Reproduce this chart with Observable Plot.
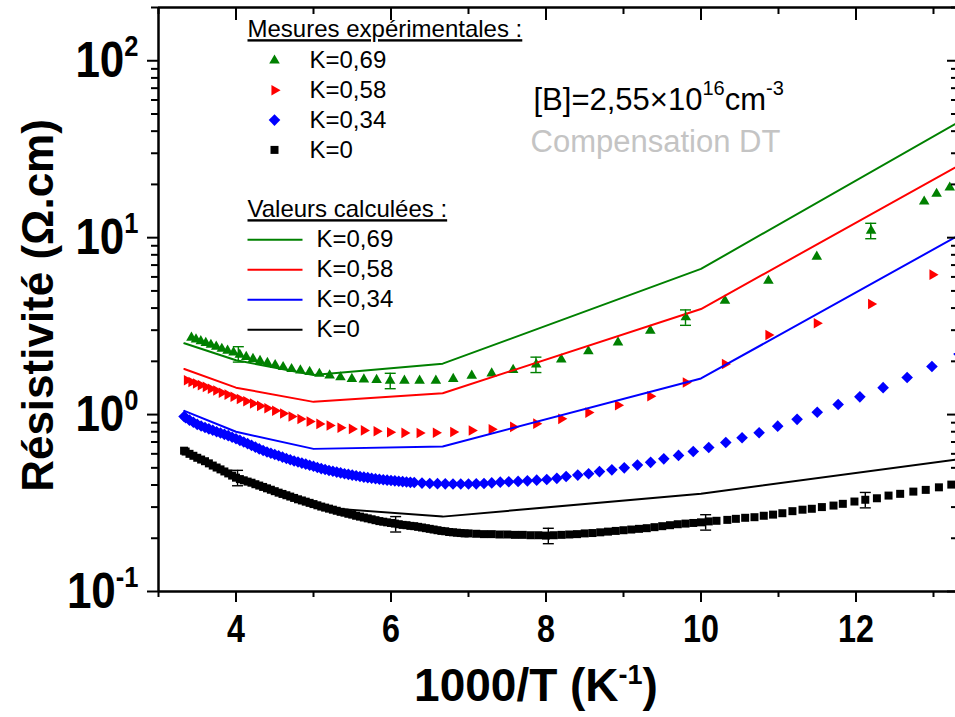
<!DOCTYPE html>
<html>
<head>
<meta charset="utf-8">
<script src="https://cdn.jsdelivr.net/npm/d3@7"></script>
<script src="https://cdn.jsdelivr.net/npm/@observablehq/plot@0.6"></script>
<style>
  html, body { margin: 0; padding: 0; background: #fff; overflow: hidden; }
  #chart svg { display: block; }
</style>
</head>
<body>
<div id="chart"></div>
<script>
// ---------------- DATA ----------------
// Experimental points, K = 0.69 (green up-triangles)
const xExpK069 = [3.425,3.484,3.546,3.610,3.676,3.745,3.817,3.891,3.968,4.049,4.132,4.219,4.310,4.405,4.505,4.608,4.717,4.831,4.950,5.076,5.208,5.348,5.495,5.650,5.814,5.988,6.173,6.369,6.579,6.803,7.042,7.299,7.576,7.874,8.197,8.547,8.929,9.346,9.804,10.309,10.870,11.494,12.195,12.88,13.04,13.21];
const rhoExpK069 = [2.72,2.66,2.60,2.54,2.48,2.42,2.355,2.30,2.245,2.18,2.12,2.065,2.01,1.96,1.905,1.857,1.81,1.778,1.742,1.70,1.665,1.625,1.59,1.58,1.57,1.556,1.556,1.556,1.556,1.59,1.66,1.71,1.79,1.92,2.05,2.28,2.56,2.98,3.55,4.41,5.71,7.81,10.96,16.0,17.7,19.2];

// Experimental points, K = 0.58 (red right-triangles)
const xExpK058 = [3.367,3.425,3.484,3.546,3.610,3.676,3.745,3.817,3.891,3.968,4.049,4.132,4.219,4.310,4.405,4.505,4.608,4.717,4.831,4.950,5.076,5.208,5.348,5.495,5.650,5.814,5.988,6.173,6.369,6.579,6.803,7.042,7.299,7.576,7.874,8.197,8.547,8.929,9.346,9.804,10.309,10.870,11.494,12.195,12.987];
const rhoExpK058 = [1.565,1.53,1.50,1.467,1.434,1.40,1.367,1.33,1.297,1.262,1.226,1.19,1.154,1.12,1.085,1.05,1.014,0.975,0.944,0.914,0.886,0.867,0.843,0.83,0.814,0.805,0.795,0.788,0.787,0.789,0.798,0.813,0.826,0.852,0.889,0.946,1.026,1.129,1.269,1.52,1.93,2.82,3.28,4.22,6.18];

// Experimental points, K = 0.34 (blue diamonds)
const xExpK034 = [3.33,3.35,3.40,3.45,3.50,3.55,3.60,3.65,3.70,3.75,3.80,3.85,3.90,3.95,4.00,4.05,4.10,4.15,4.20,4.25,4.30,4.35,4.40,4.45,4.50,4.55,4.60,4.65,4.70,4.75,4.80,4.85,4.90,4.95,5.00,5.05,5.10,5.15,5.20,5.25,5.30,5.35,5.40,5.45,5.50,5.55,5.60,5.65,5.70,5.75,5.80,5.85,5.90,5.95,6.00,6.05,6.10,6.15,6.20,6.25,6.30,
  6.4,6.5,6.6,6.7,6.8,6.9,7.0,7.1,7.2,7.3,
  7.41,7.52,7.64,7.76,7.88,8.01,8.14,8.26,8.41,8.55,8.69,8.85,9.01,9.18,9.35,9.52,9.71,9.90,10.10,10.32,10.53,10.75,10.99,11.24,11.50,11.77,12.05,12.35,12.66,12.98,13.33];
const rhoExpK034 = [0.975,0.96,0.93,0.905,0.88,0.862,0.845,0.83,0.815,0.80,0.787,0.773,0.76,0.745,0.73,0.715,0.70,0.685,0.67,0.655,0.64,0.627,0.615,0.605,0.595,0.585,0.575,0.565,0.555,0.547,0.54,0.532,0.525,0.517,0.51,0.502,0.495,0.489,0.483,0.478,0.473,0.468,0.463,0.459,0.455,0.451,0.447,0.443,0.44,0.437,0.434,0.431,0.428,0.426,0.424,0.422,0.42,0.418,0.416,0.414,0.413,
  0.41,0.408,0.407,0.406,0.405,0.405,0.405,0.406,0.408,0.411,
  0.415,0.417,0.419,0.422,0.426,0.430,0.436,0.447,0.455,0.463,0.476,0.487,0.50,0.518,0.537,0.562,0.588,0.618,0.652,0.695,0.74,0.79,0.86,0.94,1.03,1.14,1.26,1.42,1.62,1.87,2.2];

// Experimental points, K = 0 (black squares)
const xExpK0 = [3.33,3.35,3.40,3.45,3.50,3.55,3.60,3.65,3.70,3.75,3.80,3.85,3.90,3.95,4.00,4.05,4.10,4.15,4.20,4.25,4.30,4.35,4.40,4.45,4.50,4.55,4.60,4.65,4.70,4.75,4.80,4.85,4.90,4.95,5.00,5.05,5.10,5.15,5.20,5.25,5.30,5.35,5.40,5.45,5.50,5.55,5.60,5.65,5.70,5.75,5.80,5.85,5.90,5.95,6.00,6.05,6.10,6.15,6.20,6.25,6.30,6.35,6.40,6.45,6.50,6.55,6.60,6.65,6.70,6.75,6.80,6.85,6.90,6.95,7.00,
  7.1,7.2,7.3,7.4,7.5,7.6,7.7,7.8,7.9,8.0,8.1,8.2,8.3,8.4,8.5,8.6,8.7,8.8,8.9,9.0,9.1,9.2,9.3,9.4,9.5,9.6,9.7,9.8,9.9,10.0,10.1,10.2,
  10.34,10.45,10.57,10.69,10.81,10.93,11.05,11.18,11.31,11.43,11.56,11.71,11.83,11.98,12.12,12.27,12.42,12.57,12.74,12.90,13.07,13.23];
const rhoExpK0 = [0.625,0.618,0.60,0.585,0.57,0.557,0.545,0.53,0.515,0.502,0.49,0.477,0.465,0.452,0.44,0.432,0.425,0.418,0.412,0.404,0.397,0.39,0.383,0.376,0.369,0.362,0.356,0.35,0.344,0.338,0.332,0.327,0.322,0.317,0.312,0.307,0.302,0.298,0.294,0.29,0.286,0.282,0.279,0.275,0.272,0.268,0.265,0.262,0.259,0.256,0.253,0.25,0.248,0.246,0.244,0.242,0.240,0.238,0.237,0.235,0.234,0.232,0.230,0.228,0.226,0.224,0.222,0.22,0.219,0.217,0.216,0.215,0.214,0.213,0.213,
  0.212,0.211,0.211,0.210,0.210,0.209,0.209,0.208,0.208,0.207,0.208,0.209,0.210,0.211,0.213,0.214,0.216,0.218,0.220,0.222,0.224,0.226,0.228,0.231,0.234,0.237,0.240,0.242,0.244,0.246,0.249,0.251,
  0.254,0.2575,0.261,0.263,0.268,0.272,0.277,0.2845,0.29,0.2935,0.30,0.306,0.313,0.3225,0.33,0.3365,0.3485,0.3565,0.367,0.3753,0.388,0.402];

// Error bars (relative error)
const xErrK069 = [4.03, 5.99, 7.87, 9.80, 12.19];
const rhoErrK069 = [2.2, 1.556, 1.92, 3.55, 10.96];
const relErrK069 = [0.1, 0.1, 0.1, 0.1, 0.1];
const xErrK0 = [4.02, 6.06, 8.03, 10.06, 12.12];
const rhoErrK0 = [0.44, 0.241, 0.207, 0.247, 0.33];
const relErrK0 = [0.1, 0.1, 0.1, 0.1, 0.1];

// Calculated values (lines)
const xCalc = [3.333, 4, 5, 6.667, 10, 13.333];
const rhoCalcK069 = [2.53, 2.03, 1.675, 1.94, 6.66, 45.3];
const rhoCalcK058 = [1.81, 1.42, 1.18, 1.32, 3.95, 25.7];
const rhoCalcK034 = [1.05, 0.80, 0.64, 0.66, 1.60, 10.35];
const rhoCalcK0 = [0.63, 0.45, 0.30, 0.265, 0.357, 0.56];

// Ticks and labels
const xMajorTicks = [4, 6, 8, 10, 12];
const xMinorTicks = [3, 5, 7, 9, 11, 13];
const yMajorTicks = [0.1, 1, 10, 100];
const yMinorTicks = [0.2,0.3,0.4,0.5,0.6,0.7,0.8,0.9,2,3,4,5,6,7,8,9,20,30,40,50,60,70,80,90,200];
const xDomain = [3, 13.284];
const yDomain = [0.1, 200];

const legendExpTitle = "Mesures expérimentales :";
const legendCalcTitle = "Valeurs calculées :";
const legendLabels = ["K=0,69", "K=0,58", "K=0,34", "K=0"];
const seriesColors = ["#008000", "#ff0000", "#0000ff", "#000000"];
const annotation1 = "[B]=2,55×10^{16}cm^{-3}";
const annotation2 = "Compensation DT";
const xTitle = "1000/T (K^{-1})";
const yTitle = "Résistivité (Ω.cm)";

// ---------------- SYMBOLS ----------------
function poly(pts) {
  return { draw(ctx) { ctx.moveTo(pts[0][0], pts[0][1]); for (let i = 1; i < pts.length; i++) ctx.lineTo(pts[i][0], pts[i][1]); ctx.closePath(); } };
}
function hseg(len) {
  return { draw(ctx) { ctx.moveTo(-len / 2, 0); ctx.lineTo(len / 2, 0); } };
}
const TR = 6.1;
const triUp = poly([[0, -TR], [TR * 0.866, TR / 2], [-TR * 0.866, TR / 2]]);
const triRight = poly([[TR, 0], [-TR / 2, TR * 0.866], [-TR / 2, -TR * 0.866]]);
const DR = 5.8;
const diamond = poly([[0, -DR], [DR, 0], [0, DR], [-DR, 0]]);
const SQ = 4.0;
const square = poly([[-SQ, -SQ], [SQ, -SQ], [SQ, SQ], [-SQ, SQ]]);
const symbols = [triUp, triRight, diamond, square];
const cap = hseg(11);
const legendLine = hseg(55);

const font = "'Liberation Sans', Arial, Helvetica, sans-serif";

// ---------------- MARKS ----------------
const expSeries = [
  [xExpK069, rhoExpK069], [xExpK058, rhoExpK058], [xExpK034, rhoExpK034], [xExpK0, rhoExpK0]
];
const calcSeries = [rhoCalcK069, rhoCalcK058, rhoCalcK034, rhoCalcK0];

const marks = [];

[3, 2, 1, 0].forEach(i => {
  const [xs, ys] = expSeries[i];
  marks.push(Plot.dot(ys, { x: xs, y: ys, symbol: symbols[i], r: 4, fill: seriesColors[i], stroke: "none" }));
});

calcSeries.forEach((ys, i) => {
  marks.push(Plot.line(ys, { x: xCalc, y: ys, stroke: seriesColors[i], strokeWidth: 2 }));
});

function errorBars(xs, ys, rel, color) {
  const lo = ys.map((v, i) => v - v * rel[i]);
  const hi = ys.map((v, i) => v + v * rel[i]);
  return [
    Plot.ruleX(ys, { x: xs, y1: lo, y2: hi, stroke: color, strokeWidth: 1.4 }),
    Plot.dot(lo, { x: xs, y: lo, symbol: cap, r: 4, stroke: color, strokeWidth: 1.4, fill: "none" }),
    Plot.dot(hi, { x: xs, y: hi, symbol: cap, r: 4, stroke: color, strokeWidth: 1.4, fill: "none" })
  ];
}
marks.push(...errorBars(xErrK069, rhoErrK069, relErrK069, seriesColors[0]));
marks.push(...errorBars(xErrK0, rhoErrK0, relErrK0, seriesColors[3]));

// axis lines
marks.push(Plot.ruleX([xDomain[0]], { stroke: "black", strokeWidth: 2.5 }));
marks.push(Plot.ruleY([yDomain[0]], { stroke: "black", strokeWidth: 2.5 }));
marks.push(Plot.ruleY([yDomain[1]], { stroke: "black", strokeWidth: 2.5 }));

// ticks
marks.push(Plot.axisX(xMajorTicks, { anchor: "bottom", tickSize: 11, tickPadding: 13, strokeWidth: 2, fontSize: 38, fontWeight: "bold", label: null }));
marks.push(Plot.axisX(xMinorTicks, { anchor: "bottom", tickSize: 6, strokeWidth: 2, fill: null }));
marks.push(Plot.axisX(xMajorTicks, { anchor: "top", tickSize: 12, dy: 12, strokeWidth: 2, fill: null }));
marks.push(Plot.axisX(xMinorTicks, { anchor: "top", tickSize: 6, dy: 6, strokeWidth: 2, fill: null }));
marks.push(Plot.axisY(yMajorTicks, { anchor: "left", tickSize: 11, tickPadding: 9, strokeWidth: 2, fontSize: 50, fontWeight: "bold", label: null,
  tickFormat: d => `10^{${Math.round(Math.log10(d))}}` }));
marks.push(Plot.axisY(yMinorTicks, { anchor: "left", tickSize: 7, strokeWidth: 2, fill: null }));
marks.push(Plot.axisY(yMajorTicks, { anchor: "right", tickSize: 9, dx: -9, strokeWidth: 2, fill: null }));
marks.push(Plot.axisY(yMinorTicks, { anchor: "right", tickSize: 5, dx: -5, strokeWidth: 2, fill: null }));

// axis titles
marks.push(Plot.text([xTitle], { frameAnchor: "bottom", text: d => d, textAnchor: "middle", lineAnchor: "middle", dx: -21, dy: 95, fontSize: 46, fontWeight: "bold" }));
marks.push(Plot.text([yTitle], { frameAnchor: "left", text: d => d, textAnchor: "middle", lineAnchor: "middle", rotate: -90, dx: -120, dy: 6, fontSize: 44, fontWeight: "bold" }));

// legend
marks.push(Plot.text([legendExpTitle], { frameAnchor: "top-left", text: d => d, dx: 89, dy: 22, textAnchor: "start", lineAnchor: "middle", fontSize: 24 }));
marks.push(Plot.text([legendCalcTitle], { frameAnchor: "top-left", text: d => d, dx: 89, dy: 202, textAnchor: "start", lineAnchor: "middle", fontSize: 24 }));
legendLabels.forEach((lab, i) => {
  const dyE = 53 + 29.8 * i;
  marks.push(Plot.dot([lab], { frameAnchor: "top-left", dx: 116, dy: dyE, symbol: symbols[i], r: 4, fill: seriesColors[i], stroke: "none" }));
  marks.push(Plot.text([lab], { frameAnchor: "top-left", text: d => d, dx: 151, dy: dyE, textAnchor: "start", lineAnchor: "middle", fontSize: 24 }));
  const dyC = 232.3 + 30 * i;
  marks.push(Plot.dot([lab], { frameAnchor: "top-left", dx: 116.5, dy: dyC, symbol: legendLine, r: 4, stroke: seriesColors[i], strokeWidth: 2, fill: "none" }));
  marks.push(Plot.text([lab], { frameAnchor: "top-left", text: d => d, dx: 158, dy: dyC, textAnchor: "start", lineAnchor: "middle", fontSize: 24 }));
});

// annotations
marks.push(Plot.text([annotation1], { frameAnchor: "top-left", text: d => d, dx: 375, dy: 93, textAnchor: "start", lineAnchor: "middle", fontSize: 31 }));
marks.push(Plot.text([annotation2], { frameAnchor: "top-left", text: d => d, dx: 372, dy: 135, textAnchor: "start", lineAnchor: "middle", fontSize: 31, fill: "#c4c4c4" }));

const chart = Plot.plot({
  width: 955,
  height: 717,
  marginLeft: 158,
  marginRight: 0,
  marginTop: 7,
  marginBottom: 126,
  x: { domain: xDomain },
  y: { type: "log", domain: yDomain },
  style: { fontFamily: font, color: "black", background: "white" },
  marks
});
document.getElementById("chart").appendChild(chart);

// ---------------- POST-PROCESS ----------------
const NS = "http://www.w3.org/2000/svg";
function richify(el, supSize, shift) {
  const s = el.textContent;
  const parts = s.split(/(\^\{[^}]*\})/).filter(p => p.length);
  if (parts.length < 2) return;
  while (el.firstChild) el.removeChild(el.firstChild);
  let raised = false;
  for (const p of parts) {
    const t = document.createElementNS(NS, "tspan");
    if (p.startsWith("^{")) {
      t.textContent = p.slice(2, -1);
      t.setAttribute("font-size", supSize);
      t.setAttribute("dy", -shift);
      raised = true;
    } else {
      t.textContent = p;
      if (raised) { t.setAttribute("dy", shift); raised = false; }
    }
    el.appendChild(t);
  }
}
function squeeze(el, s) {
  const tr = el.getAttribute("transform") || "";
  const x = +(el.getAttribute("x") || 0);
  el.setAttribute("transform", `${tr} translate(${x},0) scale(${s},1) translate(${-x},0)`);
}
const svgEl = chart.tagName.toLowerCase() === "svg" ? chart : chart.querySelector("svg");
const svg = d3.select(svgEl);
svg.selectAll('g[aria-label="y-axis tick label"] text').each(function () { richify(this, 29, 21); squeeze(this, 0.88); });
svg.selectAll('g[aria-label="x-axis tick label"] text').each(function () { squeeze(this, 0.85); });
svg.selectAll("text").each(function () {
  const c = this.textContent;
  if (c === xTitle) richify(this, 27, 17);
  else if (c === annotation1) richify(this, 20, 15);
  else if (c === legendExpTitle || c === legendCalcTitle) {
    this.setAttribute("text-decoration", "underline");
    this.style.textDecoration = "underline";
  }
});
</script>
</body>
</html>
